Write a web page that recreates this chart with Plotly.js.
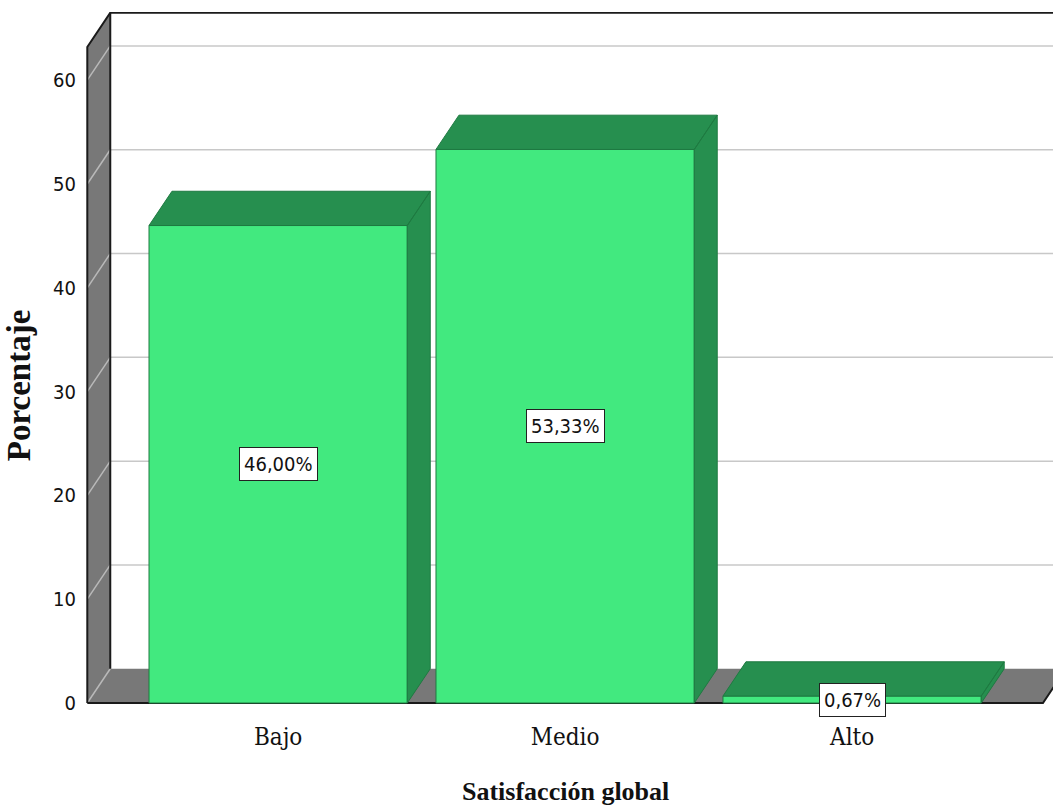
<!DOCTYPE html>
<html>
<head>
<meta charset="utf-8">
<script src="https://cdn.plot.ly/plotly-3.0.1.min.js"></script>
<style>
  html, body { margin: 0; padding: 0; background: #ffffff; }
  #chart { width: 1054px; height: 807px; }
</style>
</head>
<body>
<div id="chart"></div>
<script>
// Satisfacción global – porcentaje por nivel
const categories = ['Bajo', 'Medio', 'Alto'];
const percentages = [46.00, 53.33, 0.67];
const yTicks = [0, 10, 20, 30, 40, 50, 60];

// 3D look: depth offset expressed in axis units
const DX = 0.08;
const DY = 3.3;
const BAR_W = 0.9;
const X_LEFT = -0.665;     // front-left corner of the floor / left wall
const X_RIGHT = 2.665;     // front-right corner of the floor
const X_END = 2.9;         // walls run past the right edge of the plot
const WALL_TOP = 63.2;     // front height of the left wall

const FRONT = '#42e97f';
const DARK = '#268f4f';
const EDGE = '#1e7a41';
const WALL = '#787878';

const fmt = v => v.toFixed(2).replace('.', ',') + '%';
const xIdx = categories.map((_, i) => i);

function poly(pts) {
  return 'M' + pts.map(p => p[0] + ',' + p[1]).join(' L') + ' Z';
}
function polyline(pts) {
  return 'M' + pts.map(p => p[0] + ',' + p[1]).join(' L');
}

// Walls, floor and back-wall grid (drawn beneath the bars)
const shapes = [];
shapes.push({
  type: 'path', xref: 'x', yref: 'y', layer: 'below',
  path: poly([[X_LEFT, 0], [X_LEFT, WALL_TOP], [X_LEFT + DX, WALL_TOP + DY], [X_LEFT + DX, DY]]),
  fillcolor: WALL, line: { width: 0 }
});
shapes.push({
  type: 'path', xref: 'x', yref: 'y', layer: 'below',
  path: poly([[X_LEFT, 0], [X_RIGHT, 0], [X_RIGHT + DX, DY], [X_LEFT + DX, DY]]),
  fillcolor: WALL, line: { width: 0 }
});
yTicks.forEach(v => {
  shapes.push({
    type: 'path', xref: 'x', yref: 'y', layer: 'below',
    path: polyline([[X_LEFT, v], [X_LEFT + DX, v + DY]]),
    line: { color: '#b9b9b9', width: 1.5 }
  });
  if (v > 0) {
    shapes.push({
      type: 'path', xref: 'x', yref: 'y', layer: 'below',
      path: polyline([[X_LEFT + DX, v + DY], [X_END, v + DY]]),
      line: { color: '#c8c8c8', width: 1.5 }
    });
  }
});
// dark edges of the box
shapes.push({
  type: 'path', xref: 'x', yref: 'y', layer: 'below',
  path: polyline([[X_LEFT, 0], [X_LEFT, WALL_TOP], [X_LEFT + DX, WALL_TOP + DY], [X_END, WALL_TOP + DY]]),
  line: { color: '#1a1a1a', width: 2 }
});
shapes.push({
  type: 'path', xref: 'x', yref: 'y', layer: 'below',
  path: polyline([[X_LEFT + DX, DY], [X_LEFT + DX, WALL_TOP + DY]]),
  line: { color: '#1a1a1a', width: 2 }
});
shapes.push({
  type: 'path', xref: 'x', yref: 'y', layer: 'below',
  path: polyline([[X_LEFT, 0], [X_RIGHT, 0], [X_RIGHT + DX, DY]]),
  line: { color: '#1a1a1a', width: 2 }
});

// Bar side and top faces, built from the same values as the fronts
const sx = [], sy = [];
categories.forEach((_, i) => {
  const v = percentages[i];
  const x0 = i - BAR_W / 2, x1 = i + BAR_W / 2;
  sx.push(x1, x1 + DX, x1 + DX, x1, x1, null);
  sy.push(0, DY, v + DY, v, 0, null);
  sx.push(x0, x0 + DX, x1 + DX, x1, x0, null);
  sy.push(v, v + DY, v + DY, v, v, null);
});

const fronts = {
  type: 'bar',
  x: xIdx,
  y: percentages,
  width: BAR_W,
  marker: { color: FRONT, line: { color: EDGE, width: 1 } },
  hoverinfo: 'skip'
};
const depth = {
  type: 'scatter',
  mode: 'lines',
  x: sx, y: sy,
  fill: 'toself',
  fillcolor: DARK,
  line: { color: EDGE, width: 1 },
  hoverinfo: 'skip'
};

const annotations = categories.map((c, i) => ({
  x: i, y: percentages[i] / 2, xref: 'x', yref: 'y',
  text: fmt(percentages[i]),
  showarrow: false,
  bgcolor: '#ffffff',
  bordercolor: '#222222',
  borderwidth: 1,
  borderpad: 4,
  font: { family: 'DejaVu Sans Condensed, sans-serif', size: 20, color: '#111111' }
}));
annotations.push({
  xref: 'paper', yref: 'paper', x: 0.497, y: -0.121,
  xanchor: 'center', yanchor: 'middle',
  text: '<b>Satisfacción global</b>', showarrow: false,
  font: { family: 'Liberation Serif, serif', size: 26, color: '#111111' }
});
annotations.push({
  xref: 'paper', yref: 'paper', x: -0.066, y: 0.463,
  xanchor: 'center', yanchor: 'middle', textangle: -90,
  text: '<b>Porcentaje</b>', showarrow: false,
  font: { family: 'Liberation Serif, serif', size: 33, color: '#111111' }
});

const layout = {
  width: 1054, height: 807,
  margin: { l: 83, r: 1, t: 12, b: 100 },
  paper_bgcolor: '#ffffff',
  plot_bgcolor: '#ffffff',
  showlegend: false,
  xaxis: {
    range: [-0.68, 2.70],
    tickvals: xIdx, ticktext: categories,
    showgrid: false, zeroline: false, showline: false, ticks: '',
    ticklabelstandoff: 13,
    tickfont: { family: 'DejaVu Serif Condensed, DejaVu Serif, serif', size: 24, color: '#111111' },
    fixedrange: true
  },
  yaxis: {
    range: [-0.385, 66.57],
    tickvals: yTicks,
    showgrid: false, zeroline: false, showline: false, ticks: '',
    ticklabelstandoff: 6,
    tickfont: { family: 'DejaVu Sans Condensed, sans-serif', size: 20, color: '#111111' },
    fixedrange: true
  },
  shapes: shapes,
  annotations: annotations
};

Plotly.newPlot('chart', [fronts, depth], layout, { displayModeBar: false, staticPlot: true });
</script>
</body>
</html>
